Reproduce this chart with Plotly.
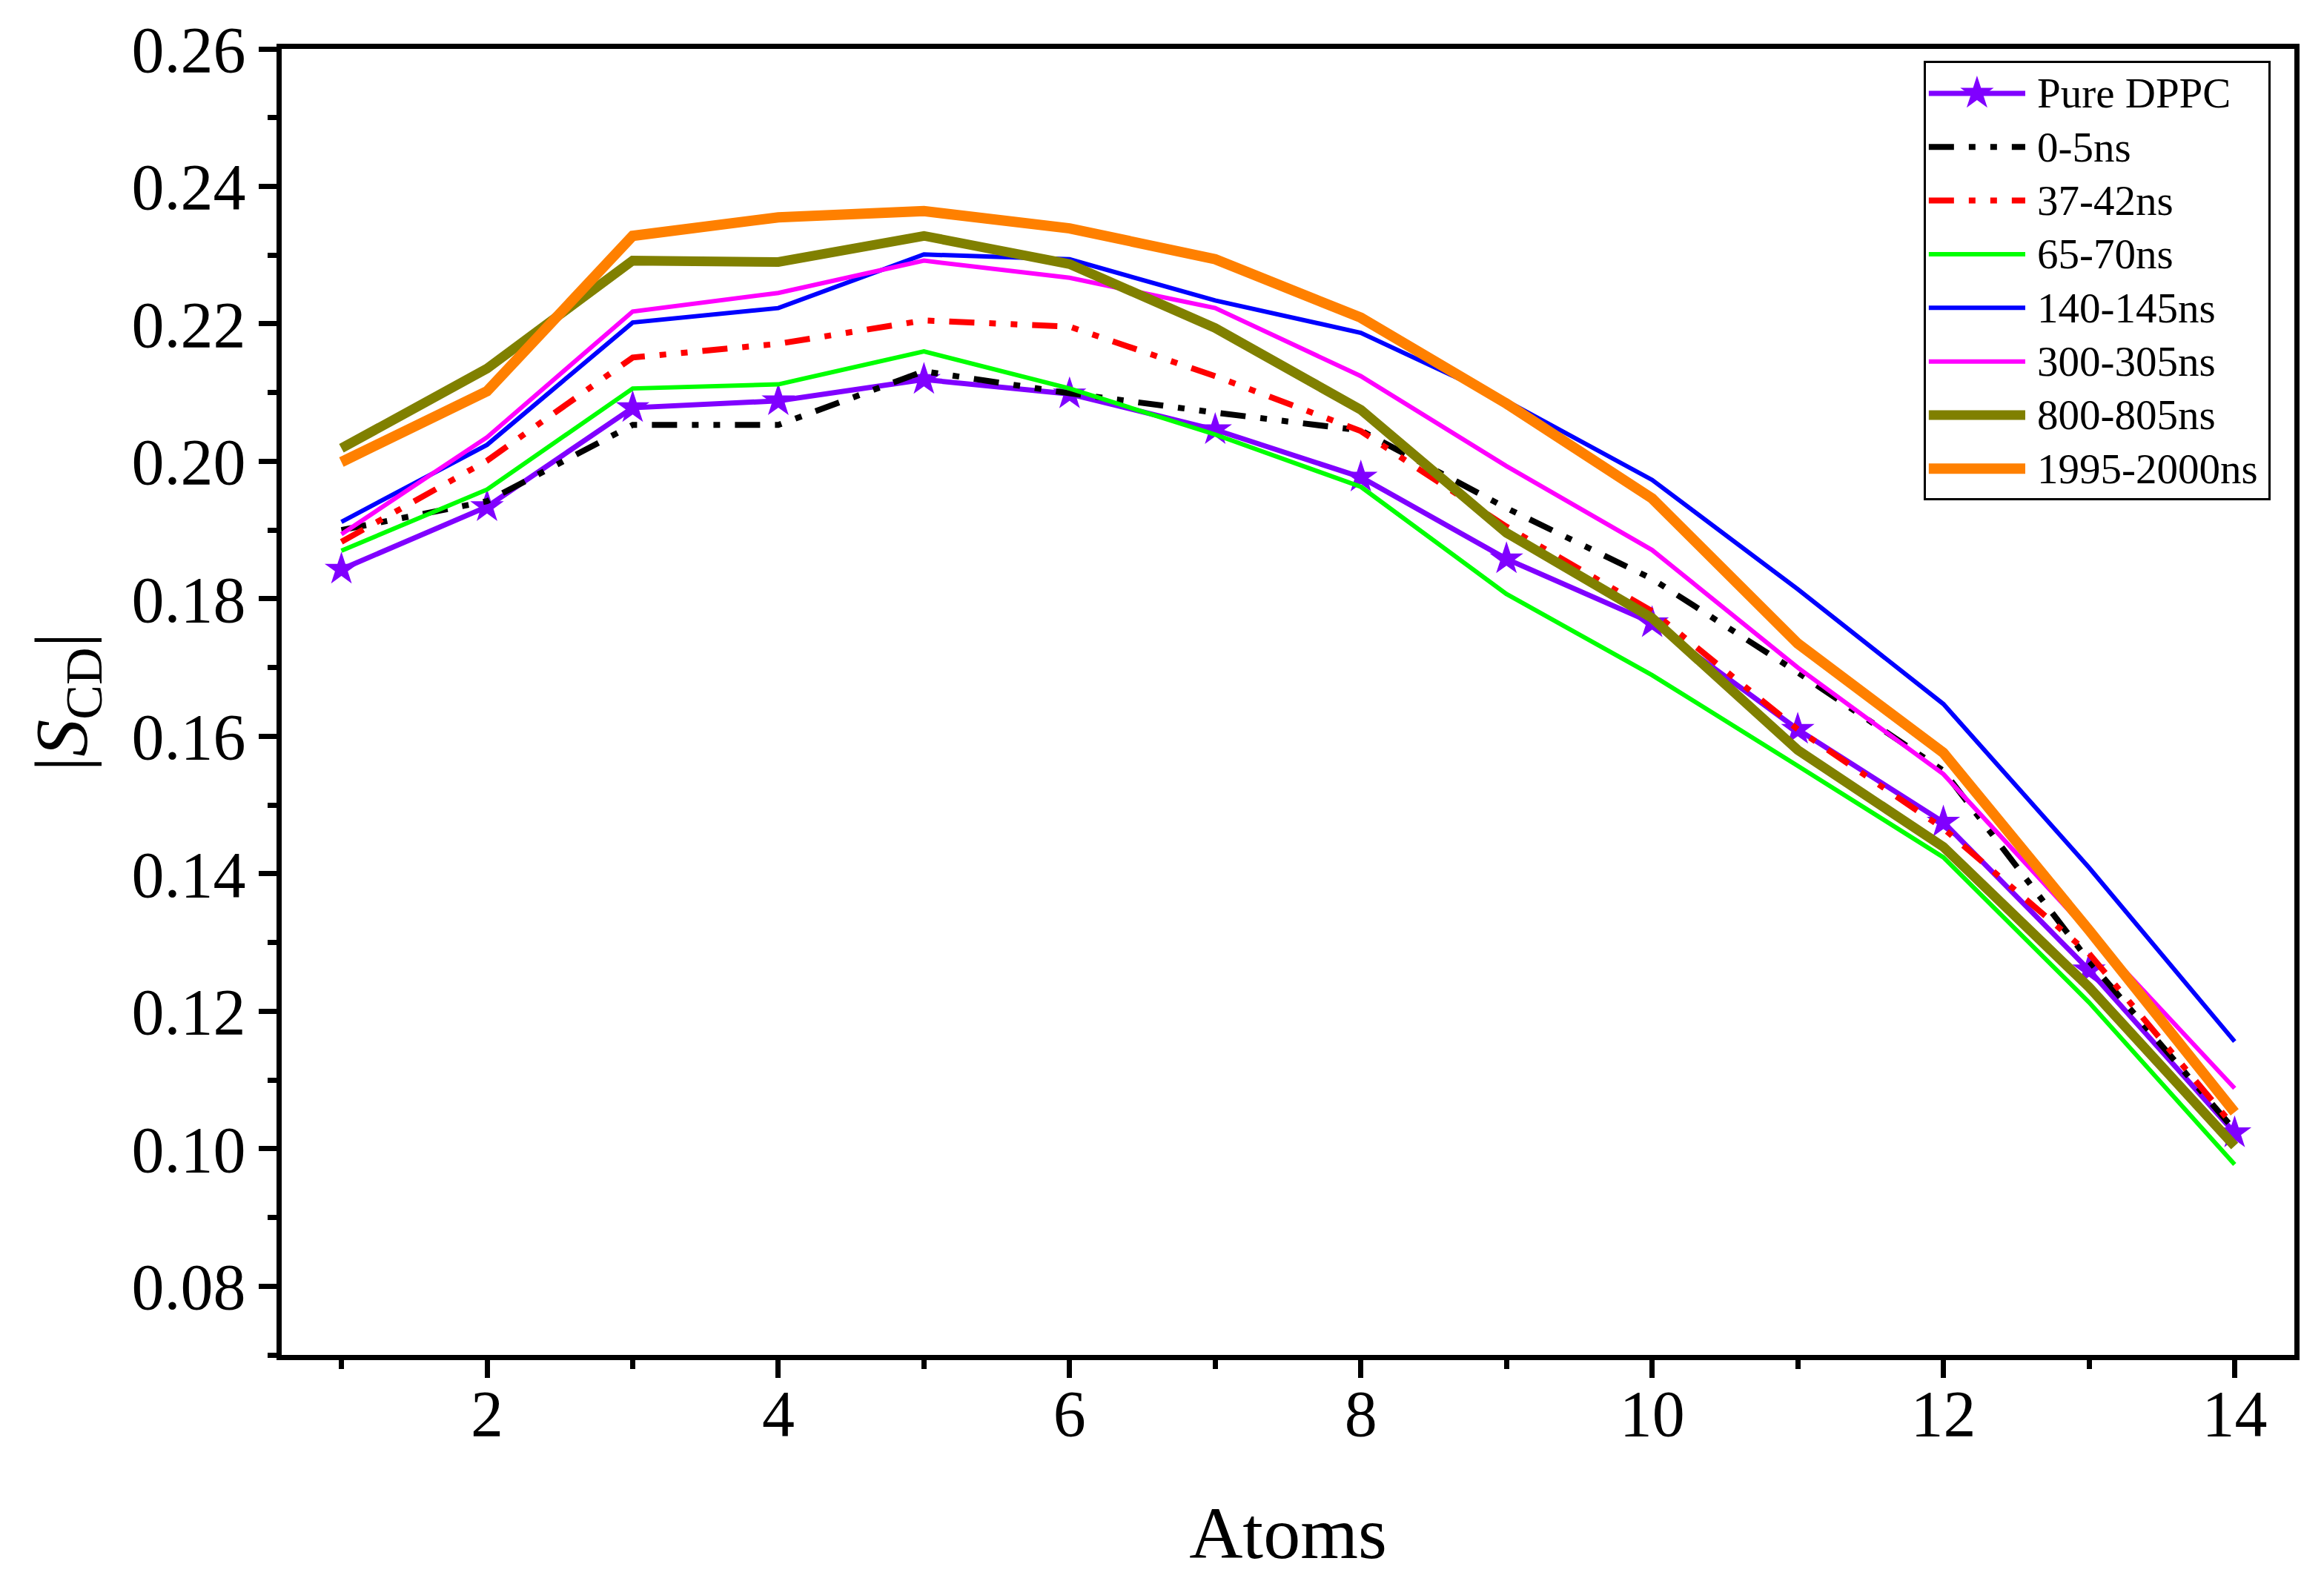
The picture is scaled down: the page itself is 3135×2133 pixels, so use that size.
import plotly.graph_objects as go

# ---------------- data ----------------
atoms = list(range(1, 15))
x_tick_vals = [2, 4, 6, 8, 10, 12, 14]

series_names = ["Pure DPPC", "0-5ns", "37-42ns", "65-70ns",
                "140-145ns", "300-305ns", "800-805ns", "1995-2000ns"]

pure_dppc = [0.1843, 0.1934, 0.2078, 0.2088, 0.2119, 0.2098, 0.2046,
             0.1977, 0.1858, 0.1765, 0.1610, 0.1475, 0.1260, 0.1023]
ns_0_5 = [0.1900, 0.1942, 0.2053, 0.2053, 0.2131, 0.2099, 0.2071,
          0.2045, 0.1932, 0.1829, 0.1693, 0.1550, 0.1273, 0.1027]
ns_37_42 = [0.1883, 0.2001, 0.2151, 0.2171, 0.2205, 0.2196, 0.2124,
            0.2044, 0.1905, 0.1782, 0.1610, 0.1466, 0.1284, 0.1031]
ns_65_70 = [0.1870, 0.1959, 0.2106, 0.2112, 0.2160, 0.2106, 0.2039,
            0.1963, 0.1807, 0.1689, 0.1557, 0.1424, 0.1213, 0.0977]
ns_140_145 = [0.1912, 0.2024, 0.2202, 0.2223, 0.2301, 0.2294, 0.2234,
              0.2187, 0.2088, 0.1973, 0.1814, 0.1647, 0.1409, 0.1156]
ns_300_305 = [0.1894, 0.2035, 0.2218, 0.2245, 0.2292, 0.2267, 0.2223,
              0.2124, 0.1993, 0.1871, 0.1700, 0.1545, 0.1315, 0.1088]
ns_800_805 = [0.2019, 0.2135, 0.2292, 0.2290, 0.2328, 0.2287, 0.2194,
              0.2075, 0.1896, 0.1772, 0.1580, 0.1439, 0.1235, 0.1004]
ns_1995_2000 = [0.1999, 0.2102, 0.2328, 0.2355, 0.2364, 0.2339, 0.2294,
                0.2209, 0.2084, 0.1946, 0.1735, 0.1576, 0.1318, 0.1053]

series_values = [pure_dppc, ns_0_5, ns_37_42, ns_65_70,
                 ns_140_145, ns_300_305, ns_800_805, ns_1995_2000]

# ---------------- styles ----------------
DDD = "34px,20px,9px,20px,9px,20px"   # dash-dot-dot
styles = [
    dict(color="#8000FF", width=7, dash="solid", star=True),
    dict(color="#000000", width=8, dash=DDD, star=False),
    dict(color="#FF0000", width=8, dash=DDD, star=False),
    dict(color="#00FF00", width=6, dash="solid", star=False),
    dict(color="#0000FF", width=6, dash="solid", star=False),
    dict(color="#FF00FF", width=6, dash="solid", star=False),
    dict(color="#808000", width=13, dash="solid", star=False),
    dict(color="#FF8000", width=14, dash="solid", star=False),
]

FONT = "Liberation Serif, Times New Roman, serif"
STAR_SIZE = 34

fig = go.Figure()

for name, vals, st in zip(series_names, series_values, styles):
    fig.add_trace(go.Scatter(
        x=atoms, y=vals, name=name,
        mode="lines+markers" if st["star"] else "lines",
        line=dict(color=st["color"], width=st["width"], dash=st["dash"]),
        marker=dict(symbol="star", size=STAR_SIZE, color=st["color"],
                    line=dict(width=0)),
        showlegend=False,
    ))

# ---------------- custom legend (inset axes) ----------------
LEG_X0, LEG_X1, LEG_TXT = 0.008, 0.29, 0.32
n = len(series_names)
for i, (name, st) in enumerate(zip(series_names, styles)):
    fig.add_trace(go.Scatter(
        x=[LEG_X0, LEG_X1], y=[i, i], xaxis="x3", yaxis="y3",
        mode="lines",
        line=dict(color=st["color"], width=st["width"], dash=st["dash"]),
        showlegend=False, hoverinfo="skip",
    ))
    if st["star"]:
        fig.add_trace(go.Scatter(
            x=[(LEG_X0 + LEG_X1) / 2], y=[i], xaxis="x3", yaxis="y3",
            mode="markers",
            marker=dict(symbol="star", size=STAR_SIZE, color=st["color"],
                        line=dict(width=0)),
            showlegend=False, hoverinfo="skip",
        ))
    fig.add_annotation(x=LEG_TXT, y=i, xref="x3", yref="y3", text=name,
                       showarrow=False, xanchor="left", yanchor="middle",
                       font=dict(family=FONT, size=57, color="black"))

# ---------------- axes ----------------
XR = [0.59, 14.41]
YR = [0.07, 0.26]
tick_common = dict(tickcolor="black", tickwidth=7, showgrid=False,
                   zeroline=False)

fig.update_layout(
    width=3135, height=2133,
    margin=dict(l=380, r=40, t=66, b=305),
    paper_bgcolor="white", plot_bgcolor="white",
    font=dict(family=FONT, color="black"),
    showlegend=False,
    xaxis=dict(
        range=XR, tickmode="array", tickvals=x_tick_vals,
        ticks="outside", ticklen=24, **tick_common,
        showline=True, linewidth=7, linecolor="black", mirror=True,
        tickfont=dict(family=FONT, size=88),
        ticklabelstandoff=-28,
        minor=dict(tickmode="linear", tick0=0, dtick=1, ticks="outside",
                   ticklen=12, tickwidth=7, tickcolor="black", showgrid=False),
        title=dict(text="Atoms", font=dict(family=FONT, size=100), standoff=80),
        automargin=False,
    ),
    yaxis=dict(
        range=YR, tick0=0, dtick=0.02, tickformat=".2f",
        ticks="outside", ticklen=24, **tick_common,
        showline=True, linewidth=7, linecolor="black", mirror=True,
        tickfont=dict(family=FONT, size=88),
        minor=dict(tickmode="linear", tick0=0, dtick=0.01, ticks="outside",
                   ticklen=12, tickwidth=7, tickcolor="black", showgrid=False),
        title=dict(text="|<i>S</i><sub>CD</sub>|",
                   font=dict(family=FONT, size=100), standoff=30),
        automargin=False,
    ),
    xaxis2=dict(
        overlaying="x", side="top", range=XR, tickmode="array",
        tickvals=x_tick_vals, ticks="inside", ticklen=24, **tick_common,
        showticklabels=False, showline=False,
        minor=dict(tickmode="linear", tick0=0, dtick=1, ticks="inside",
                   ticklen=12, tickwidth=7, tickcolor="black", showgrid=False),
    ),
    yaxis2=dict(
        overlaying="y", side="right", range=YR, tick0=0, dtick=0.02,
        ticks="inside", ticklen=24, **tick_common,
        showticklabels=False, showline=False,
        minor=dict(tickmode="linear", tick0=0, dtick=0.01, ticks="inside",
                   ticklen=12, tickwidth=7, tickcolor="black", showgrid=False),
    ),
    xaxis3=dict(
        domain=[0.817, 0.987], anchor="y3", range=[0, 1],
        showline=True, mirror=True, linewidth=3, linecolor="black",
        showticklabels=False, ticks="", showgrid=False, zeroline=False,
        fixedrange=True,
    ),
    yaxis3=dict(
        domain=[0.656, 0.989], anchor="x3", range=[n - 0.45, -0.56],
        showline=True, mirror=True, linewidth=3, linecolor="black",
        showticklabels=False, ticks="", showgrid=False, zeroline=False,
        fixedrange=True,
    ),
)

fig.write_html("out.html")
